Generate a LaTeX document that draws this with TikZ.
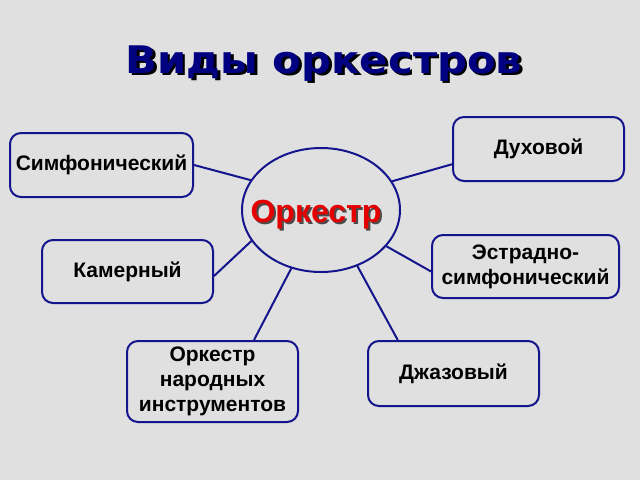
\documentclass[tikz,border=0pt]{standalone}
\usepackage{fontspec}
\setmainfont{Liberation Sans}
\newfontfamily\titlefont[FakeStretch=1.1]{DejaVu Sans}
\usetikzlibrary{shapes.geometric}
\definecolor{bg}{RGB}{224,224,224}
\definecolor{navy}{RGB}{20,20,140}
\definecolor{titleblue}{RGB}{0,0,128}
\definecolor{redtxt}{RGB}{228,0,0}
\newcommand\myshadowtext[3]{\makebox[0pt][l]{\kern#1\raisebox{-#1}{\textcolor{#2}{#3}}}#3}
\begin{document}
\begin{tikzpicture}[x=1pt,y=-1pt,
  box/.style={draw=navy, line width=2pt, rounded corners=11pt, inner sep=0pt,
    align=center, font=\bfseries\fontsize{21}{25}\selectfont, text=black},
  link/.style={draw=navy, line width=2pt},
  titletext/.style={font=\titlefont\bfseries\fontsize{38}{40}\selectfont, anchor=base, inner sep=0pt},
  centertext/.style={font=\bfseries\fontsize{32}{34}\selectfont, anchor=base, inner sep=0pt}]
\fill[bg] (0,0) rectangle (640,480);
\useasboundingbox (0,0) rectangle (640,480);
% title
\node[titletext, text=titleblue] (title) at (324,73) {\myshadowtext{2.5pt}{black}{Виды оркестров}};
% center ellipse
\node[ellipse, draw=navy, line width=2pt, minimum width=158pt, minimum height=124pt, inner sep=0pt] (orch) at (321,210) {};
\node[centertext, text=redtxt] (orchlabel) at (316,222) {\myshadowtext{2pt}{black!70}{Оркестр}};
% boxes
\node[box, minimum width=183pt, minimum height=64pt] (simf) at (101.5,165) {Симфонический};
\node[box, minimum width=171pt, minimum height=64pt] (duh) at (538.5,149) {Духовой};
\node[box, minimum width=171pt, minimum height=63pt] (kam) at (127.5,271.5) {Камерный};
\node[box, minimum width=187pt, minimum height=63pt] (estr) at (525.5,266.5) {Эстрадно-\\симфонический};
\node[box, minimum width=171pt, minimum height=81pt] (nar) at (212.5,381.5) {Оркестр\\народных\\инструментов};
\node[box, minimum width=171pt, minimum height=65pt] (jazz) at (453.5,373.5) {Джазовый};
% connectors
\draw[link] (simf.east) -- (orch.157.7);
\draw[link] (orch.22.9) -- (duh.190.6);
\draw[link] (kam.-3.7) -- (orch.204.3);
\draw[link] (orch.331.7) -- (estr.183.4);
\draw[link] (orch.243.8) -- (nar.45.7);
\draw[link] (orch.303.2) -- (jazz.149.2);
\end{tikzpicture}
\end{document}
